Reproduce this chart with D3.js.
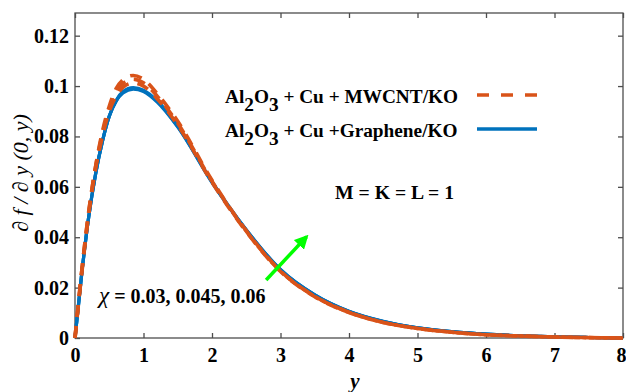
<!DOCTYPE html>
<html>
<head>
<meta charset="utf-8">
<script src="https://cdn.jsdelivr.net/npm/d3@7"></script>
<style>
  body { margin: 0; background: #fff; }
  svg text { font-family: "Times New Roman", "Liberation Serif", "DejaVu Serif", serif; }
</style>
</head>
<body>
<script>
// y positions along the sheet
const yGrid = [0, 0.1, 0.2, 0.3, 0.4, 0.5, 0.6, 0.7, 0.85, 1.0, 1.2, 1.5, 2.0, 2.5, 3.0, 3.5, 4.0, 4.5, 5.0, 5.5, 6.0, 6.5, 7.0, 7.5, 8.0]

// Al2O3 + Cu + MWCNT/KO  (chi = 0.03, 0.045, 0.06)
const mwcnt1 = [0, 0.026, 0.049, 0.067, 0.080, 0.090, 0.096, 0.0995, 0.1012, 0.1000, 0.0950, 0.0845, 0.0618, 0.0422, 0.0264, 0.0164, 0.0101, 0.0062, 0.0038, 0.0023, 0.0013, 0.0008, 0.0004, 0.00015, 0]
const mwcnt2 = [0, 0.027, 0.050, 0.068, 0.081, 0.091, 0.0975, 0.101, 0.1027, 0.1013, 0.0960, 0.0852, 0.0622, 0.0424, 0.0265, 0.0165, 0.0102, 0.0062, 0.0038, 0.0023, 0.0013, 0.0008, 0.0004, 0.00015, 0]
const mwcnt3 = [0, 0.027, 0.050, 0.068, 0.082, 0.092, 0.099, 0.1025, 0.1042, 0.1027, 0.0970, 0.0860, 0.0626, 0.0426, 0.0266, 0.0165, 0.0102, 0.0062, 0.0038, 0.0023, 0.0013, 0.0008, 0.0004, 0.00015, 0]

// Al2O3 + Cu + Graphene/KO  (chi = 0.03, 0.045, 0.06)
const graph1 = [0, 0.026, 0.048, 0.065, 0.078, 0.088, 0.094, 0.0972, 0.0988, 0.0978, 0.0936, 0.0837, 0.0617, 0.0428, 0.0270, 0.0170, 0.0105, 0.0065, 0.0040, 0.0025, 0.0015, 0.0009, 0.0005, 0.0002, 0]
const graph2 = [0, 0.026, 0.048, 0.065, 0.078, 0.088, 0.094, 0.0975, 0.0991, 0.0981, 0.0939, 0.0839, 0.0619, 0.0429, 0.0271, 0.0171, 0.0105, 0.0065, 0.0040, 0.0025, 0.0015, 0.0009, 0.0005, 0.0002, 0]
const graph3 = [0, 0.026, 0.048, 0.065, 0.078, 0.088, 0.0943, 0.0978, 0.0994, 0.0984, 0.0942, 0.0841, 0.0621, 0.0430, 0.0272, 0.0171, 0.0106, 0.0066, 0.0040, 0.0025, 0.0015, 0.0009, 0.0005, 0.0002, 0]

const xTicks = [0, 1, 2, 3, 4, 5, 6, 7, 8]
const yTicks = [0, 0.02, 0.04, 0.06, 0.08, 0.1, 0.12]
const legendLabels = ["MWCNT/KO", "Graphene/KO"]

const width = 626
const height = 392
const margin = { top: 13, right: 3, bottom: 54, left: 75 }
const serif = "'Times New Roman', 'Liberation Serif', 'DejaVu Serif', serif"

const svg = d3.select("body").append("svg")
    .attr("width", width)
    .attr("height", height)
    .style("font-family", serif)

const x = d3.scaleLinear().domain([0, 8]).range([margin.left, width - margin.right])
const y = d3.scaleLinear().domain([0, 0.129]).range([height - margin.bottom, margin.top])

const line = d3.line()
    .x(d => x(d[0]))
    .y(d => y(d[1]))
    .curve(d3.curveMonotoneX)

const orange = "#D95319"
const blue = "#0072BD"
const frameColor = "#4d4d4d"

// frame
svg.append("rect")
    .attr("x", x(0)).attr("y", y(0.129))
    .attr("width", x(8) - x(0)).attr("height", y(0) - y(0.129))
    .attr("fill", "none").attr("stroke", frameColor).attr("stroke-width", 1.3)

// axes (ticks pointing inwards on all sides)
let xAxis = svg.append("g")
    .attr("transform", "translate(0," + y(0) + ")")
    .call(d3.axisBottom(x).tickValues(xTicks).tickSizeInner(-5).tickSizeOuter(0).tickPadding(10))
let xTop = svg.append("g")
    .attr("transform", "translate(0," + y(0.129) + ")")
    .call(d3.axisTop(x).tickValues(xTicks).tickSizeInner(-5).tickSizeOuter(0).tickFormat(""))
let yAxis = svg.append("g")
    .attr("transform", "translate(" + x(0) + ",0)")
    .call(d3.axisLeft(y).tickValues(yTicks).tickSizeInner(-5).tickSizeOuter(0).tickPadding(6)
        .tickFormat(d => String(+d.toFixed(2))))
let yRight = svg.append("g")
    .attr("transform", "translate(" + x(8) + ",0)")
    .call(d3.axisRight(y).tickValues(yTicks).tickSizeInner(-5).tickSizeOuter(0).tickFormat(""))

svg.selectAll("g").attr("font-family", null)
svg.selectAll(".domain").remove()
svg.selectAll(".tick line").attr("stroke", frameColor).attr("stroke-width", 1.3)
svg.selectAll(".tick text")
    .attr("fill", "#000")
    .style("font-size", "20px")
    .style("font-weight", "bold")
    .style("font-family", serif)
// keep the last x label inside the picture
xAxis.selectAll(".tick text").filter(d => d === 8).attr("dx", -2)

// curves: graphene below, mwcnt dashed above
const graphSeries = [graph1, graph2, graph3]
const mwcntSeries = [mwcnt1, mwcnt2, mwcnt3]

svg.append("g").selectAll("path")
    .data(graphSeries)
    .enter()
    .append("path")
    .attr("d", d => line(yGrid.map((v, i) => [v, d[i]])))
    .attr("fill", "none")
    .attr("stroke", blue)
    .attr("stroke-width", 3.2)

svg.append("g").selectAll("path")
    .data(mwcntSeries)
    .enter()
    .append("path")
    .attr("d", d => line(yGrid.map((v, i) => [v, d[i]])))
    .attr("fill", "none")
    .attr("stroke", orange)
    .attr("stroke-width", 3.6)
    .attr("stroke-dasharray", "12,9")

// legend
let legendG = svg.append("g")
let legendRows = [
    { label: legendLabels[0], plus: "+ Cu + ", color: orange, dash: "12,12", yy: 103 },
    { label: legendLabels[1], plus: "+ Cu +", color: blue, dash: null, yy: 137 },
]
legendRows.forEach(r => {
    let t = legendG.append("text")
        .attr("x", 225).attr("y", r.yy)
        .style("font-size", "19.3px").style("font-weight", "bold")
    t.append("tspan").text("Al")
    t.append("tspan").attr("dy", 8).text("2")
    t.append("tspan").attr("dy", -8).text("O")
    t.append("tspan").attr("dy", 8).text("3")
    t.append("tspan").attr("dy", -8).text(" " + r.plus + r.label)
    legendG.append("line")
        .attr("x1", 477).attr("x2", 537)
        .attr("y1", r.yy - 8).attr("y2", r.yy - 8)
        .attr("stroke", r.color).attr("stroke-width", 3.6)
        .attr("stroke-dasharray", r.dash)
})

// annotations
svg.append("text")
    .attr("x", 335).attr("y", 199)
    .style("font-size", "19.7px").style("font-weight", "bold")
    .text("M = K = L = 1")

let chi = svg.append("text")
    .attr("x", 99).attr("y", 303)
    .style("font-size", "20px").style("font-weight", "bold")
chi.append("tspan").style("font-style", "italic").style("font-weight", "normal").style("font-size", "23px").text("χ")
chi.append("tspan").text(" = 0.03, 0.045, 0.06")

// green arrow
const arrowFrom = [2.79, 0.0230]
const arrowTo = [3.38, 0.0402]
svg.append("defs").append("marker")
    .attr("id", "head")
    .attr("viewBox", "0 0 10 10")
    .attr("refX", 8).attr("refY", 5)
    .attr("markerWidth", 4).attr("markerHeight", 4)
    .attr("orient", "auto")
    .append("path")
    .attr("d", "M0,0 L10,5 L0,10 z")
    .attr("fill", "#00ff00")
svg.append("line")
    .attr("x1", x(arrowFrom[0])).attr("y1", y(arrowFrom[1]))
    .attr("x2", x(arrowTo[0])).attr("y2", y(arrowTo[1]))
    .attr("stroke", "#00ff00").attr("stroke-width", 3.5)
    .attr("marker-end", "url(#head)")

// axis titles
svg.append("text")
    .attr("x", 355).attr("y", 388)
    .attr("text-anchor", "middle")
    .style("font-size", "21px").style("font-style", "italic").style("font-weight", "bold")
    .text("y")

svg.append("text")
    .attr("transform", "translate(28," + 173 + ") rotate(-90)")
    .attr("text-anchor", "middle")
    .style("font-size", "22px").style("font-style", "italic")
    .text("∂ f / ∂ y (0, y)")
</script>
</body>
</html>
